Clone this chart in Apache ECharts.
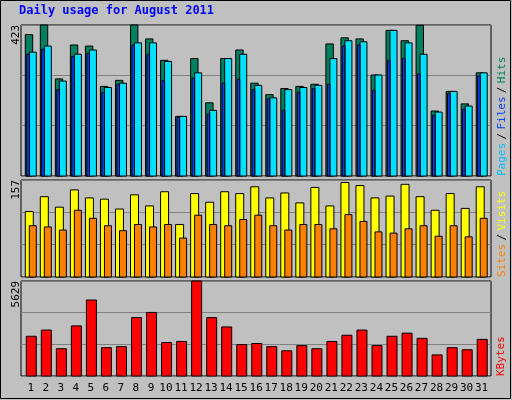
<!DOCTYPE html>
<html><head><meta charset="utf-8">
<script src="https://cdn.jsdelivr.net/npm/echarts@6/dist/echarts.min.js"></script>
<style>html,body{margin:0;padding:0;background:#c0c0c0}#c{width:512px;height:400px}</style>
</head><body><div id="c"></div>
<script>
const days = [1,2,3,4,5,6,7,8,9,10,11,12,13,14,15,16,17,18,19,20,21,22,23,24,25,26,27,28,29,30,31];
const weekend = [6,7,13,14,20,21,27,28];
const hits  = [396,423,272,367,364,251,268,423,384,324,167,329,205,329,353,260,228,245,251,257,370,387,384,283,408,379,422,182,237,202,289];
const files = [347,364,266,341,353,248,260,373,373,321,167,289,184,329,341,254,219,242,248,254,329,379,376,283,408,373,341,179,237,196,289];
const pages = [341,355,242,335,344,234,257,367,341,268,164,274,173,260,271,242,216,184,234,245,257,364,367,240,324,329,286,170,231,187,280];
const visits= [106,130,113,141,128,126,110,133,115,138,85,135,121,138,135,146,128,136,120,145,115,153,148,128,131,150,130,108,135,111,146];
const sites = [83,81,76,108,95,83,75,85,81,85,63,100,85,83,93,100,83,76,85,85,78,101,90,73,71,78,83,66,83,65,95];
const kbytes= [2354,2722,1617,2968,4503,1678,1740,3459,3766,1985,2047,5629,3459,2907,1863,1924,1740,1494,1801,1617,2047,2415,2722,1801,2354,2538,2231,1249,1678,1556,2170];
const maxTop = 423, maxMid = 157, maxBot = 5629;

const chart = echarts.init(document.getElementById('c'), null, {renderer:'canvas'});
const F = 'DejaVu Sans Mono';
const grids = [
  {left:21, width:470, top:25, height:151},
  {left:21, width:470, top:180, height:97},
  {left:21, width:470, top:281, height:95}
];
function xAx(i){
  return {type:'value', gridIndex:i, min:0.355, max:31.625, interval:1,
    axisLine:{show:false}, axisTick:{show:false}, splitLine:{show:false},
    axisLabel:{show:i===2, margin:7, fontFamily:F, fontSize:11,
      customValues: days,
      color: v => weekend.includes(v) ? '#008040' : '#000',
      formatter: v => String(v)}};
}
function yAx(i, mx){
  return {type:'value', gridIndex:i, min:0, max:mx, interval:mx/3,
    axisLine:{show:false}, axisTick:{show:false},
    splitLine:{show:true, lineStyle:{color:'#808080', width:1}},
    axisLabel:{show:true, rotate:90, align:'right', verticalAlign:'middle', margin:5,
      fontFamily:F, fontSize:11, color:'#000', customValues:[mx],
      formatter: v => v===mx ? String(mx) : ''}};
}
function barSeries(gi, data, color, x0, x1, z){
  return {type:'custom', xAxisIndex:gi, yAxisIndex:gi, z:z,
    data: data.map((v,i)=>[days[i], v]),
    renderItem:(params, api)=>{
      const p = api.coord([api.value(0), api.value(1)]);
      const b = api.coord([api.value(0), 0]);
      return {type:'rect', shape:{x:p[0]+x0, y:p[1], width:x1-x0, height:b[1]-p[1]},
        style:{fill:color, stroke:'#000', lineWidth:1}};
    }};
}
const option = {
  animation:false,
  backgroundColor:'#c0c0c0',
  grid: grids.map(g=>Object.assign({show:true, backgroundColor:'#c0c0c0', borderColor:'#000', borderWidth:1}, g)),
  xAxis:[xAx(0),xAx(1),xAx(2)],
  yAxis:[yAx(0,maxTop),yAx(1,maxMid),yAx(2,maxBot)],
  series:[
    barSeries(0,hits,'#008060',-5.4,2,1),
    barSeries(0,pages,'#0040ff',-4,-1.4,3),
    barSeries(0,files,'#00e0ff',-1.4,5.6,2),
    barSeries(1,visits,'#ffff00',-5.4,2.6,1),
    barSeries(1,sites,'#ff8000',-1.4,5.6,2),
    barSeries(2,kbytes,'#ff0000',-4.4,5.6,1)
  ],
  graphic:[
    {type:'rect', shape:{x:0.5,y:0.5,width:510,height:398}, style:{fill:'none', stroke:'#000', lineWidth:1}, z:0},
    {type:'text', left:19, top:5, style:{text:'Daily usage for August 2011', font:'bold 12px "DejaVu Sans Mono"', fill:'#0000ff'}},
    {type:'text', x:496, y:176, rotation:Math.PI/2, style:{
      text:'{a|Pages} {s|/} {b|Files} {s|/} {c|Hits}', align:'left', verticalAlign:'top',
      rich:{a:{fill:'#00c0ff', font:'11px "DejaVu Sans Mono"'}, b:{fill:'#0040ff', font:'11px "DejaVu Sans Mono"'},
            c:{fill:'#008060', font:'11px "DejaVu Sans Mono"'}, s:{fill:'#000', font:'11px "DejaVu Sans Mono"'}}}},
    {type:'text', x:496, y:277, rotation:Math.PI/2, style:{
      text:'{a|Sites} {s|/} {b|Visits}', align:'left', verticalAlign:'top',
      rich:{a:{fill:'#ff8000', font:'11px "DejaVu Sans Mono"'}, b:{fill:'#ffff00', font:'11px "DejaVu Sans Mono"'},
            s:{fill:'#000', font:'11px "DejaVu Sans Mono"'}}}},
    {type:'text', x:496, y:376, rotation:Math.PI/2, style:{
      text:'KBytes', align:'left', verticalAlign:'top', fill:'#ff0000', font:'11px "DejaVu Sans Mono"'}}
  ]
};
chart.setOption(option);
</script></body></html>
